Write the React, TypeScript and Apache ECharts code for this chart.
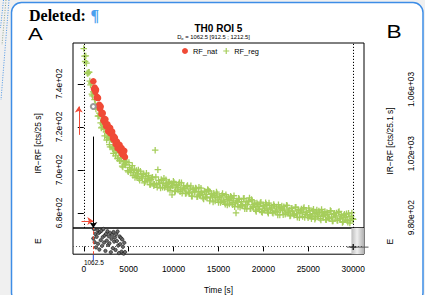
import React, { useEffect, useRef } from "react";
import * as echarts from "echarts";

// ---------- data ----------
const De = 1062.5;
const DeLow = 912.5;
const DeHigh = 1212.5;

// RF_reg: regenerated signal, channels every 150 s starting at 0 s
const regStart = 0;
const regStep = 150;
const regValues = [
  756.4, 750.4, 749.6, 744.8, 745.4, 739.5, 735.2, 736.3, 732.7, 728.3,
  730.0, 725.1, 725.1, 719.5, 721.3, 718.9, 719.3, 713.9, 715.1, 711.8,
  714.4, 710.5, 707.7, 710.3, 708.2, 705.3, 708.0, 704.3, 705.6, 701.3,
  703.8, 702.3, 703.6, 699.1, 701.2, 698.9, 702.0, 698.7, 696.5, 699.7,
  698.2, 696.0, 699.4, 696.2, 697.9, 694.0, 697.0, 695.8, 697.4, 693.2,
  695.6,
  696.6, 692.6, 709.2, 693.2, 700.1, 693.6, 691.6, 695.1, 693.9, 691.8,
  695.4, 692.3, 694.2, 690.4, 693.6, 692.5, 694.2, 690.2, 692.7, 690.7,
  694.2, 691.1, 689.1, 692.6, 691.3, 689.2, 692.8, 689.7, 691.5, 687.8,
  690.9, 689.8, 691.6, 687.5, 690.0, 688.1, 691.5, 688.4, 686.5, 689.9,
  688.6, 690.9, 690.1, 687.0, 688.9, 685.1, 688.2, 687.2, 688.9, 684.9,
  687.5, 685.5, 689.0, 686.0, 684.0, 687.5, 686.3, 684.2, 687.8, 684.8,
  686.6, 682.9, 680.0, 685.0, 686.8, 682.7, 685.3, 683.4, 686.8, 683.8,
  681.9, 685.3, 687.0, 682.1, 685.6, 682.6, 684.5, 680.7, 683.9, 682.9,
  684.6, 680.6, 683.2, 681.2, 684.7, 681.8, 679.9, 683.4, 682.2, 680.2,
  683.9, 680.9, 682.8, 679.1, 682.3, 681.4, 683.2, 679.2, 681.8, 679.9,
  683.4, 680.5, 678.6, 682.1, 680.9, 678.9, 682.6, 679.6, 681.5, 677.8,
  681.0, 680.1, 681.9, 677.9, 680.5, 678.6, 682.2, 679.2, 677.3, 680.9,
  679.7, 677.7, 681.4, 678.4, 680.3, 676.7, 679.9, 678.9, 680.7, 676.8,
  679.4, 677.5, 681.1, 678.1, 676.2, 679.8, 678.6, 676.6, 680.3, 677.3,
  679.2, 675.6, 678.8, 677.8, 679.6, 675.7, 678.3, 676.4, 680.0, 677.0,
];

// RF_reg, interleaved channels (every 150 s starting at 75 s)
const regStartB = 75;
const regValuesB = [
  752.9, 753.0, 745.1, 745.4, 741.3, 740.4, 734.4, 736.3, 730.5, 729.4,
  725.0, 726.4, 721.9, 719.9, 722.0, 715.8, 717.7, 715.0, 715.4, 710.7,
  714.0, 709.8, 709.9, 706.5, 708.9, 705.4, 704.3, 707.0, 701.8, 704.3,
  702.5, 703.7, 699.7, 703.4, 699.7, 700.2, 697.4, 700.4, 697.5, 696.9,
  700.0, 695.2, 698.1, 696.8, 698.2, 694.6, 698.5, 695.1, 695.8, 693.2,
  696.3, 693.7, 693.3, 696.7, 691.9, 695.1, 693.8, 695.5, 691.9, 696.1,
  692.7, 693.7, 691.1, 694.4, 691.7, 688.4, 694.7, 689.9, 693.1, 691.8,
  693.4, 689.9, 694.0, 690.7, 691.6, 689.0, 692.3, 689.6, 689.2, 692.6,
  687.8, 690.9, 689.7, 691.3, 687.7, 691.9, 688.5, 689.4, 686.9, 690.1,
  687.4, 687.1, 690.4, 685.6, 688.8, 687.5, 689.1, 685.6, 689.7, 686.4,
  687.3, 684.8, 688.1, 685.4, 685.1, 688.5, 683.7, 686.9, 685.7, 687.3,
  683.8, 688.0, 684.6, 685.6, 683.0, 686.3, 683.7, 683.3, 686.7, 682.0,
  685.1, 683.9, 685.6, 682.0, 686.2, 682.9, 683.8, 681.3, 684.6, 681.9,
  681.6, 685.0, 680.2, 683.4, 682.2, 683.9, 680.4, 684.6, 681.4, 682.4,
  679.9, 683.2, 680.6, 680.4, 683.8, 679.1, 682.3, 681.1, 682.9, 679.4,
  683.6, 680.3, 681.3, 678.8, 682.2, 679.6, 679.3, 682.7, 678.0, 681.3,
  680.1, 681.8, 678.3, 682.5, 679.3, 680.3, 677.8, 681.1, 678.6, 678.3,
  681.7, 677.1, 680.3, 679.1, 680.9, 677.4, 681.6, 678.4, 679.4, 676.9,
  680.2, 677.7, 677.4, 680.8, 676.2, 679.4, 678.2, 680.0, 676.5, 680.7,
  677.5, 678.5, 676.0, 679.4, 676.8, 676.5, 679.9, 675.3, 678.5, 677.3,
];

// RF_nat: natural signal (slid), channels every 75 s starting at De
const natStep = 75;
const natValues = [
  741.2, 737.6, 738.3, 736.3, 737.3, 733.6, 733.9, 733.4, 729.7, 730.3,
  728.3, 729.5, 726.0, 726.6, 726.4, 723.0, 723.9, 722.1, 723.5, 720.3,
  721.1, 721.2, 718.0, 719.1, 717.5, 719.6, 716.8, 717.7, 717.8, 714.6,
  715.7, 713.8, 715.0, 712.0, 713.0, 713.2, 710.1, 711.3, 709.9, 711.7,
  708.8, 709.9, 710.2, 707.2, 708.5, 707.1, 708.9, 706.0,
];

// residuals of RF_nat
const residualValues = [
  4.1, 8.9, 2.2, 6.4, -0.5, 5.0, 8.3, 1.4, 6.9, -1.6,
  7.5, 3.2, 8.1, 0.3, 4.8, 9.0, 2.0, 5.7, -2.3, 6.5,
  3.0, 7.8, 0.8, 5.2, 1.6, 7.0, -3.0, 3.9, 6.0, -0.9,
  7.4, 2.5, 4.6, -1.8, 6.3, 2.8, 7.7, 0.5, -3.4, 5.1,
  1.2, 4.4, -2.7, 3.6, -0.2, -3.7, 1.9, -2.9,
];

const xTicks = [0, 5000, 10000, 15000, 20000, 25000, 30000];
const leftTicks = [680, 700, 720, 740];
const leftTickLabels = ["6.8e+02", "7.0e+02", "7.2e+02", "7.4e+02"];
const rightTicks = [980, 1020, 1060];
const rightTickLabels = ["9.80e+02", "1.02e+03", "1.06e+03"];

const X_MIN = -1200;
const X_MAX = 31200;
const Y_MIN = 673;
const Y_MAX = 759;
const Y2_MIN = 973.6;
const Y2_MAX = 1089;
const RES_MIN = -4;
const RES_MAX = 9.5;

// annotation anchors (data space)
const upArrowT = -555;
const upArrowFrom = 716.3;
const upArrowTo = 729.5;
const sideArrowFromT = -250;
const sideArrowY = 676.2;
const deLineTop = 715.5;
const lxTxValue = 729.5;
const resEndT = 30000;
const resEndValue = -0.35;
const gradStartT = 29800;

// ---------- styles ----------
const FONT = "Liberation Sans";
const GREEN = "#A6CE5C";
const RED = "#F04A36";
const PLUS = "path://M4,0H6V4H10V6H6V10H4V6H0V4H4Z";

export default function App() {
  const ref = useRef<HTMLDivElement>(null);

  useEffect(() => {
    const chart = echarts.init(ref.current!, null, { renderer: "svg" });

    const regData = regValues
      .map((v, i) => [regStart + i * regStep, v])
      .concat(regValuesB.map((v, i) => [regStartB + i * regStep, v]));
    const natData = natValues.map((v, i) => [De + i * natStep, v]);
    const resData = residualValues.map((v, i) => [De + i * natStep, v]);

    const tickLabel = {
      fontSize: 8.4,
      color: "#000",
      fontFamily: FONT,
    };

    const option: any = {
      animation: false,
      backgroundColor: "#f0f0f0",
      textStyle: { fontFamily: FONT },
      legend: {
        data: [
          { name: "RF_nat", icon: "circle" },
          { name: "RF_reg", icon: PLUS },
        ],
        left: 182,
        top: 47.5,
        padding: 0,
        itemWidth: 6,
        itemHeight: 6,
        itemGap: 6,
        selectedMode: false,
        textStyle: { fontSize: 7.4, color: "#000", fontFamily: FONT },
      },
      grid: [
        { left: 73, top: 43, width: 291, height: 185, show: true, borderColor: "#000", borderWidth: 1, backgroundColor: "transparent" },
        { left: 73, top: 228, width: 291, height: 27, show: true, borderColor: "#000", borderWidth: 1, backgroundColor: "transparent" },
      ],
      xAxis: [
        { type: "value", gridIndex: 0, min: X_MIN, max: X_MAX, show: false, splitLine: { show: false } },
        {
          type: "value",
          gridIndex: 1,
          min: X_MIN,
          max: X_MAX,
          name: "Time [s]",
          nameLocation: "middle",
          nameGap: 31.8,
          nameTextStyle: { fontSize: 8.2, color: "#000", fontFamily: FONT },
          axisLine: { show: false },
          axisTick: { show: true, length: 5, customValues: xTicks, lineStyle: { color: "#000", width: 1 } },
          axisLabel: { ...tickLabel, customValues: xTicks, margin: 11, formatter: (v: number) => String(v) },
          splitLine: { show: false },
        },
      ],
      yAxis: [
        {
          type: "value",
          gridIndex: 0,
          min: Y_MIN,
          max: Y_MAX,
          axisLine: { show: false },
          axisTick: { show: true, length: 6, customValues: leftTicks, lineStyle: { color: "#000", width: 1 } },
          axisLabel: {
            ...tickLabel,
            customValues: leftTicks,
            rotate: 90,
            margin: 10.5,
            formatter: (v: number) => leftTickLabels[leftTicks.indexOf(v)] ?? "",
          },
          splitLine: { show: false },
        },
        {
          type: "value",
          gridIndex: 0,
          position: "right",
          min: Y2_MIN,
          max: Y2_MAX,
          axisLine: { show: false },
          axisTick: { show: false },
          axisLabel: {
            ...tickLabel,
            customValues: rightTicks,
            rotate: 90,
            margin: 42.8,
            formatter: (v: number) => rightTickLabels[rightTicks.indexOf(v)] ?? "",
          },
          splitLine: { show: false },
        },
        { type: "value", gridIndex: 1, min: RES_MIN, max: RES_MAX, show: false, splitLine: { show: false } },
      ],
      series: [
        {
          name: "RF_reg",
          type: "scatter",
          xAxisIndex: 0,
          yAxisIndex: 0,
          data: regData,
          symbol: PLUS,
          symbolSize: 6.5,
          itemStyle: { color: GREEN, opacity: 1 },
          z: 2,
          silent: true,
          markLine: {
            silent: true,
            symbol: ["none", "none"],
            label: { show: false },
            lineStyle: { color: "#000", type: [1.2, 1.8], width: 1 },
            data: [{ xAxis: 0 }, { xAxis: 30000 }],
          },
        },
        {
          name: "RF_nat",
          type: "scatter",
          xAxisIndex: 0,
          yAxisIndex: 0,
          data: natData,
          symbol: "circle",
          symbolSize: 6.5,
          itemStyle: { color: RED, opacity: 1 },
          z: 3,
          silent: true,
          markLine: {
            silent: true,
            symbol: ["none", "arrow"],
            symbolSize: 6,
            label: { show: false },
            lineStyle: { color: RED, width: 1, type: "solid" },
            data: [
              [
                { coord: [De, deLineTop], lineStyle: { color: "#000", width: 1, type: "solid" } },
                { coord: [De, Y_MIN], lineStyle: { color: "#000", width: 1, type: "solid" } },
              ],
              [
                { coord: [upArrowT, upArrowFrom], lineStyle: { color: RED, width: 1, type: "solid" } },
                { coord: [upArrowT, upArrowTo], lineStyle: { color: RED, width: 1, type: "solid" } },
              ],
              [
                { coord: [sideArrowFromT, sideArrowY], lineStyle: { color: RED, width: 1, type: "solid" } },
                { coord: [De, sideArrowY], lineStyle: { color: RED, width: 1, type: "solid" } },
              ],
            ],
          },
          markPoint: {
            silent: true,
            label: { show: false },
            data: [
              { coord: [De, lxTxValue], symbol: "emptyCircle", symbolSize: 5, itemStyle: { color: "#9a9a9a" } },
            ],
          },
        },
        {
          name: "Residuals",
          type: "scatter",
          xAxisIndex: 1,
          yAxisIndex: 2,
          data: resData,
          symbol: "circle",
          symbolSize: 3.4,
          itemStyle: { color: "#6a6a6a", borderColor: "#111", borderWidth: 0.6, opacity: 1 },
          z: 3,
          silent: true,
          markLine: {
            silent: true,
            symbol: ["none", "none"],
            label: { show: false },
            data: [
              { xAxis: De, lineStyle: { color: RED, type: [3, 2], width: 1 } },
              { yAxis: 0, lineStyle: { color: "#555", type: [1, 2], width: 1 } },
            ],
          },
          markArea: {
            silent: true,
            itemStyle: {
              color: new echarts.graphic.LinearGradient(0, 0, 1, 0, [
                { offset: 0, color: "#bdbdbd" },
                { offset: 0.45, color: "#efefef" },
                { offset: 1, color: "#b0b0b0" },
              ]),
            },
            data: [[{ xAxis: gradStartT }, { xAxis: X_MAX }]],
          },
          markPoint: {
            silent: true,
            label: { show: false },
            data: [{ coord: [resEndT, resEndValue], symbol: PLUS, symbolSize: 6, itemStyle: { color: "#000" } }],
          },
        },
      ],
    };

    chart.setOption(option);

    const px = (g: number, x: number, y: number) =>
      chart.convertToPixel({ gridIndex: g } as any, [x, y]) as unknown as number[];
    const [deX, resBottom] = px(1, De, RES_MIN);
    const [, endY] = px(1, resEndT, resEndValue);
    const [endLineStart] = px(1, 29300, 0);
    const [rightEdge] = px(1, X_MAX, 0);

    const txt = (text: string, x: number, y: number, size: number, extra: any = {}) => ({
      type: "text",
      x,
      y,
      z: 100,
      silent: true,
      ...extra,
      style: {
        text,
        fontSize: size,
        fontFamily: FONT,
        fill: "#000",
        textAlign: "center",
        textVerticalAlign: "middle",
        ...(extra.style || {}),
      },
    });

    chart.setOption({
      graphic: [
        {
          type: "rect",
          z: -10,
          silent: true,
          shape: { x: 11.5, y: 2.5, width: 411.5, height: 300, r: 10 },
          style: { fill: "#fff", stroke: "#3d8de6", lineWidth: 1.5 },
        },
        { type: "line", z: -9, silent: true, shape: { x1: 9, y1: 0, x2: 1, y2: 100 }, style: { stroke: "#4b95e6", lineWidth: 1, lineDash: [1, 1.5] } },
        { type: "line", z: -9, silent: true, shape: { x1: 6, y1: 0, x2: 2, y2: 45 }, style: { stroke: "#8aa58a", lineWidth: 1, lineDash: [1, 1.5] } },
        { type: "line", z: -9, silent: true, shape: { x1: 3.5, y1: 0, x2: 0.5, y2: 28 }, style: { stroke: "#4b95e6", lineWidth: 1, lineDash: [1, 1.5] } },
        txt("Deleted:", 29, 15.1, 16, { style: { fontFamily: "Liberation Serif", fontWeight: "bold", textAlign: "left" } }),
        txt("\u00B6", 90.5, 15.1, 16, { style: { fontFamily: "Liberation Serif", fontWeight: "bold", textAlign: "left", fill: "#4aa0ee" } }),
        txt("A", 28, 34, 17, { scaleX: 1.3, style: { textAlign: "left" } }),
        txt("B", 386.5, 32.2, 17.5, { scaleX: 1.3, style: { textAlign: "left" } }),
        txt("TH0 ROI 5", 218.4, 28.7, 10, { style: { fontWeight: "bold" } }),
        txt(`D{s|e} = ${De} [${DeLow} ; ${DeHigh}]`, 213.5, 37.3, 5.8, {
          style: { rich: { s: { fontSize: 4.2, fontFamily: FONT, padding: [2.5, 0, 0, 0] } } },
        }),
        txt("IR\u2212RF [cts/25 s]", 38.3, 143.4, 8.4, { rotation: Math.PI / 2 }),
        txt("IR\u2212RF [cts/25.1 s]", 389.5, 141, 8.4, { rotation: Math.PI / 2 }),
        txt("E", 38.3, 241.2, 8.5, { rotation: Math.PI / 2 }),
        txt("E", 390.3, 241.7, 8.5, { rotation: Math.PI / 2 }),
        txt(String(De), deX + 0.5, 262.4, 6.5),
        {
          type: "line",
          z: 50,
          silent: true,
          shape: { x1: deX, y1: resBottom + 0.8, x2: deX, y2: resBottom + 6.2 },
          style: { stroke: "#2a4bd7", lineWidth: 1 },
        },
        {
          type: "line",
          z: 50,
          silent: true,
          shape: { x1: endLineStart, y1: endY, x2: rightEdge + 4.5, y2: endY },
          style: { stroke: "#555", lineWidth: 1 },
        },
      ],
    });

    return () => chart.dispose();
  }, []);

  return <div ref={ref} style={{ position: "fixed", left: 0, top: 0, width: 425, height: 295 }} />;
}
